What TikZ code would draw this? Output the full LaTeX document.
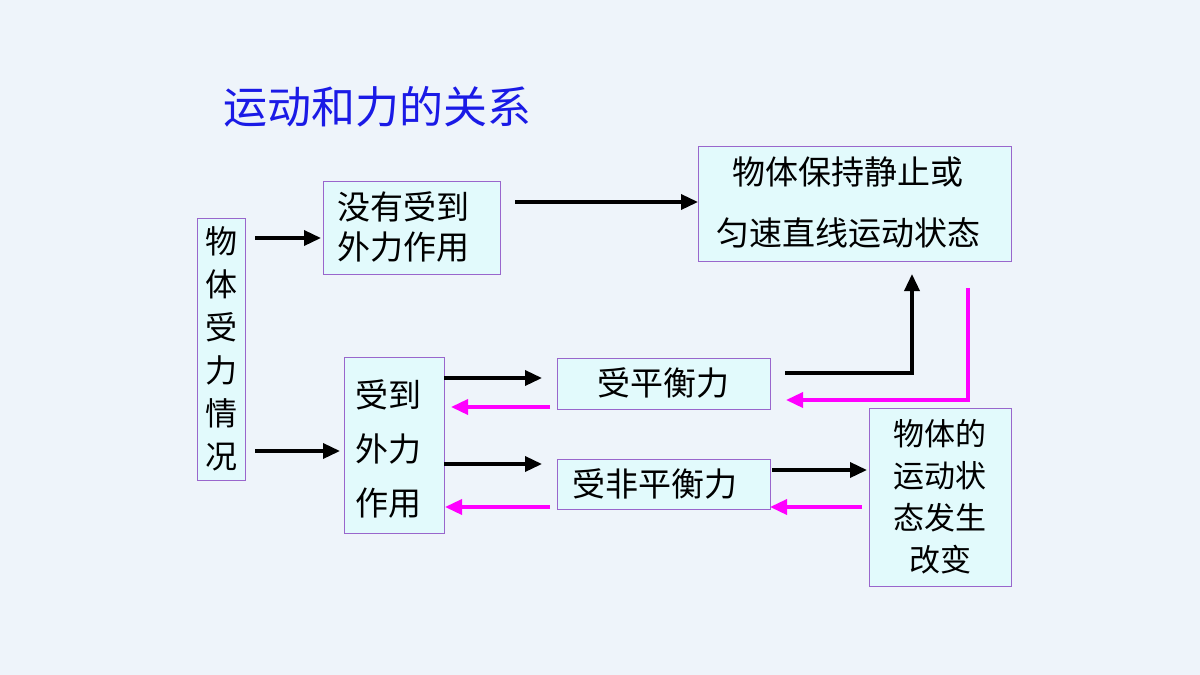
\documentclass[tikz,border=0pt]{standalone}
\usepackage{fontspec}
\setmainfont{Noto Sans CJK SC}
\usetikzlibrary{arrows.meta}
\definecolor{bg}{HTML}{EEF4FA}
\definecolor{boxf}{HTML}{E2FAFC}
\definecolor{boxd}{HTML}{9966CC}
\definecolor{mag}{HTML}{FF00FF}
\definecolor{ttl}{HTML}{1A1AE6}
\begin{document}
\begin{tikzpicture}[x=1pt,y=-1pt,
 box/.style={draw=boxd,fill=boxf,line width=0.8pt,inner sep=0pt},
 txt/.style={font=\fontsize{33}{40}\selectfont,align=center},
 blk/.style={line width=3.5pt,-{Triangle[length=17pt,width=15pt]}},
 pk/.style={line width=3.5pt,mag,-{Triangle[length=17pt,width=15pt]}}]
\fill[bg] (0,0) rectangle (1200,675);
\useasboundingbox (0,0) rectangle (1200,675);
\node[ttl,font=\fontsize{44}{48}\selectfont] (t) at (377,107) {运动和力的关系};
\draw[box] (197,218) rectangle (245,480);
\node[txt,font=\fontsize{32}{43}\selectfont] (A) at (221,349) {物\\体\\受\\力\\情\\况};
\draw[box] (323,181) rectangle (500,274);
\node[txt] (B) at (403,227) {没有受到\\外力作用};
\draw[box] (698,146) rectangle (1011,261);
\node[txt,font=\fontsize{33}{61}\selectfont] (C) at (848,203) {物体保持静止或\\匀速直线运动状态};
\draw[box] (344,357) rectangle (444,533);
\node[txt,font=\fontsize{33}{54}\selectfont] (D) at (388,449) {受到\\外力\\作用};
\draw[box] (557,358) rectangle (770,409);
\node[txt] (E) at (663,383) {受平衡力};
\draw[box] (557,459) rectangle (770,509);
\node[txt] (F) at (655,484) {受非平衡力};
\draw[box] (869,408) rectangle (1011,586);
\node[txt,font=\fontsize{31}{42}\selectfont] (G) at (940,497) {物体的\\运动状\\态发生\\改变};
\coordinate (a1) at (255,238); \coordinate (b1) at (321,238);
\coordinate (a2) at (255,451); \coordinate (d1) at (340,451);
\coordinate (b2) at (515,202); \coordinate (c1) at (698,202);
\coordinate (d2) at (444,378); \coordinate (e1) at (542,378);
\coordinate (d3) at (444,464); \coordinate (f1) at (542,464);
\coordinate (e2) at (785,373); \coordinate (k1) at (912,373); \coordinate (c2) at (912,274);
\coordinate (f2) at (772,470); \coordinate (g1) at (867,470);
\coordinate (m1) at (968,288); \coordinate (m2) at (968,400); \coordinate (e3) at (786,400);
\coordinate (e4) at (550,407); \coordinate (d4) at (451,407);
\coordinate (f3) at (550,507); \coordinate (d5) at (445,507);
\coordinate (g2) at (862,507); \coordinate (f4) at (770,507);
\draw[blk] (a1)--(b1);
\draw[blk] (a2)--(d1);
\draw[blk] (b2)--(c1);
\draw[blk] (d2)--(e1);
\draw[blk] (d3)--(f1);
\draw[blk] (e2)--(k1)--(c2);
\draw[blk] (f2)--(g1);
\draw[pk] (m1)--(m2)--(e3);
\draw[pk] (e4)--(d4);
\draw[pk] (f3)--(d5);
\draw[pk] (g2)--(f4);
\end{tikzpicture}
\end{document}
